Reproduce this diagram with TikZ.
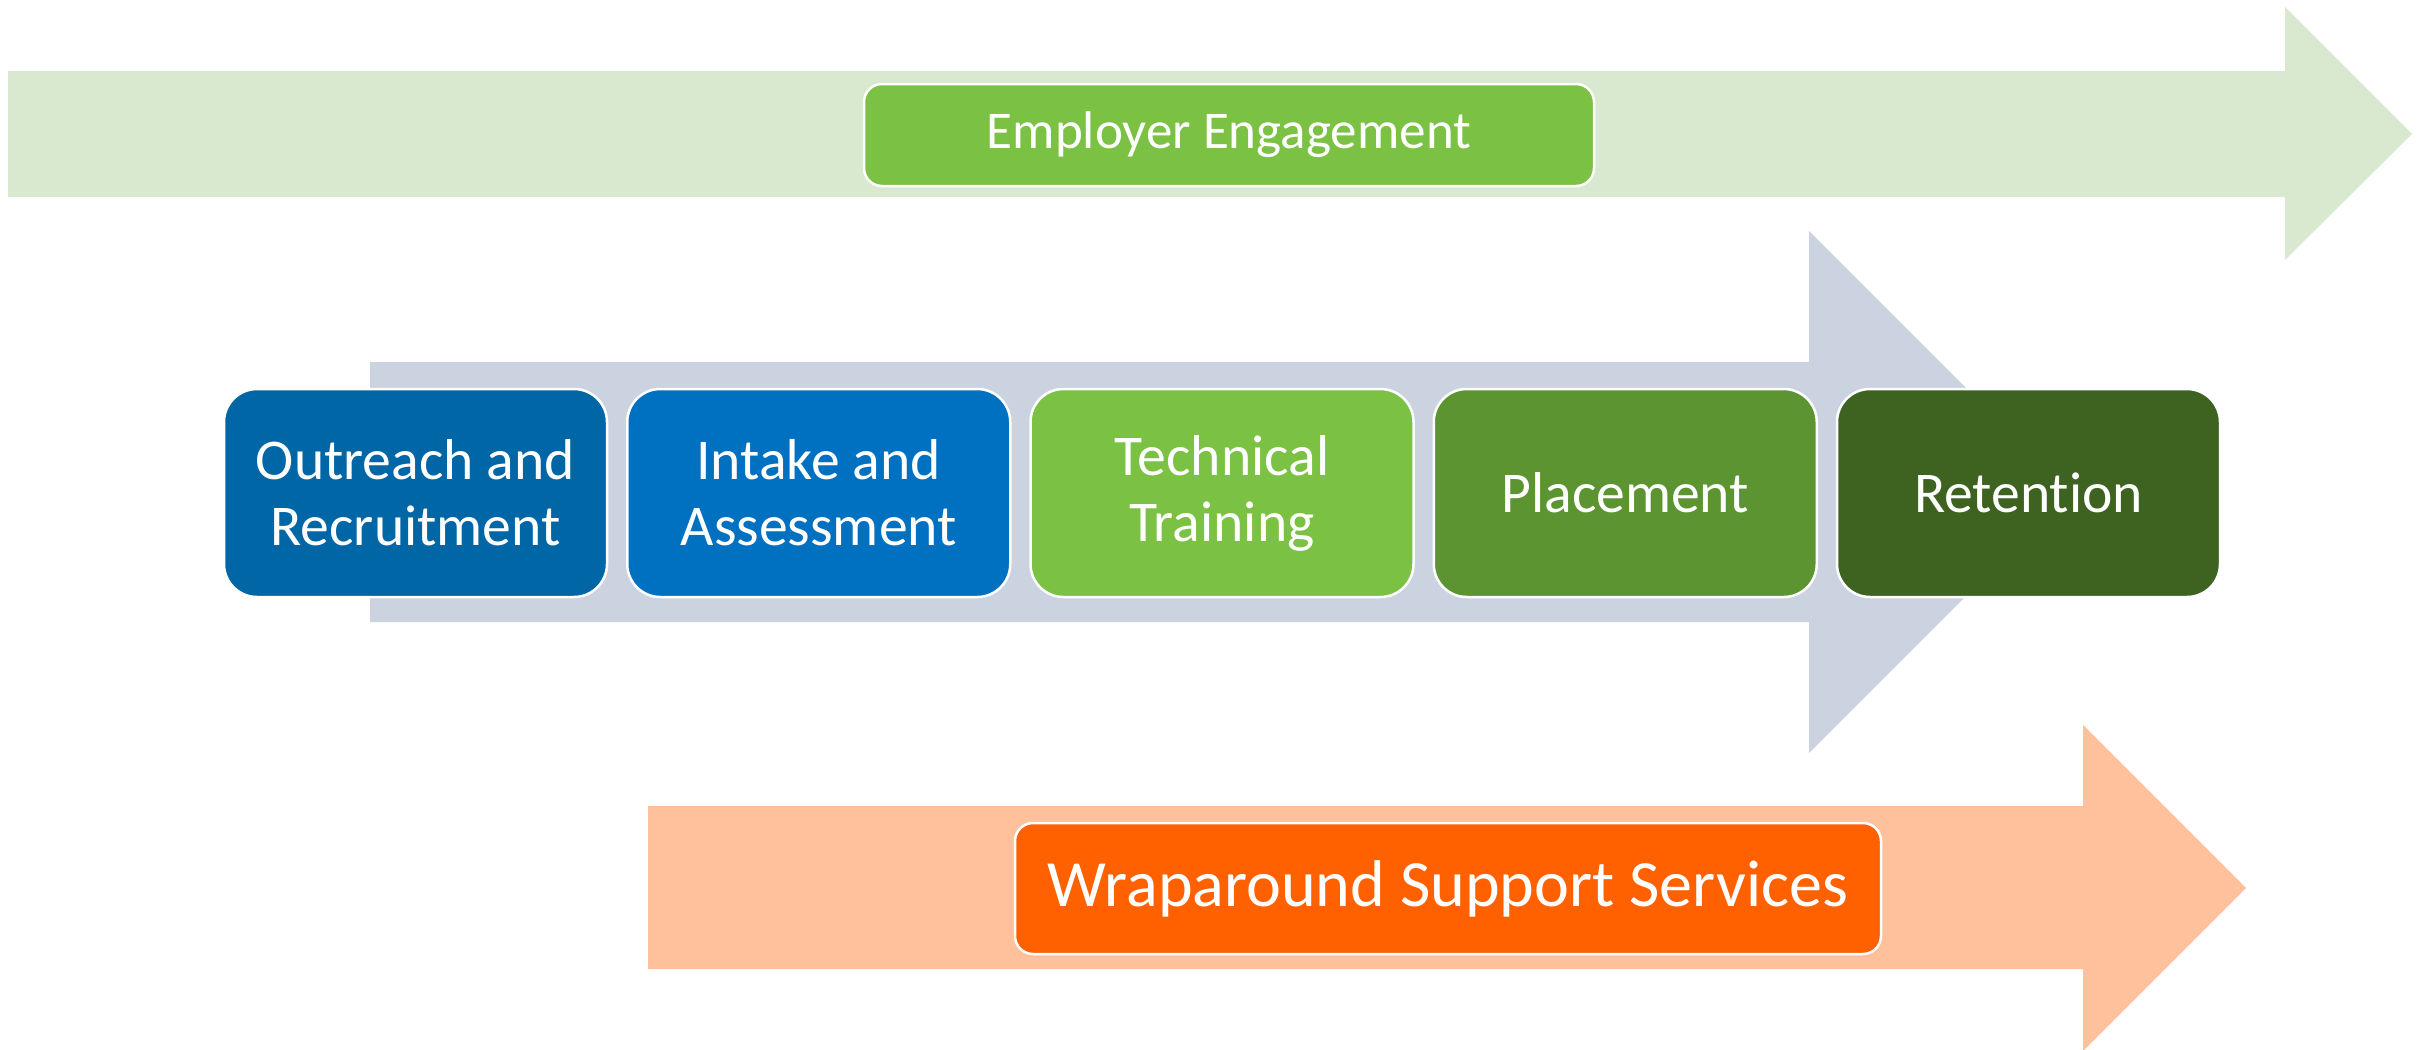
\documentclass[tikz,border=0pt]{standalone}
\usepackage{fontspec}
\setmainfont{Carlito}[Ligatures=NoCommon]

\definecolor{engagelight}{HTML}{D8E9D0}
\definecolor{engagegreen}{HTML}{7BC143}
\definecolor{flowgrey}{HTML}{CCD3E0}
\definecolor{outreachblue}{HTML}{0066A6}
\definecolor{intakeblue}{HTML}{0070C0}
\definecolor{trainingreen}{HTML}{7BC143}
\definecolor{placegreen}{HTML}{5B9431}
\definecolor{retaingreen}{HTML}{3E6321}
\definecolor{supportlight}{HTML}{FEC19B}
\definecolor{supportorange}{HTML}{FF6100}

\begin{document}
\begin{tikzpicture}[
        x=0.1mm, y=-0.1mm,
        stage/.style={draw=white, line width=0.25mm, rounded corners=3.3mm,
            minimum width=38.3mm, minimum height=20.8mm, inner sep=0pt,
            align=center, text=white,
            font=\fontsize{16.4pt}{18.8pt}\selectfont},
        banner/.style={draw=white, line width=0.25mm, rounded corners=1.8mm,
            inner sep=0pt, text=white}
    ]

        \useasboundingbox (0,0) rectangle (2422,1049);

        % Frecce di sfondo
        \fill[engagelight] (8,71) -- (2285,71) -- (2285,7) -- (2412,134)
            -- (2285,260) -- (2285,197) -- (8,197) -- cycle;

        \fill[flowgrey] (370,362) -- (1809,362) -- (1809,231) -- (2070,492)
            -- (1809,753) -- (1809,622) -- (370,622) -- cycle;

        \fill[supportlight] (648,806) -- (2083,806) -- (2083,725) -- (2246,888)
            -- (2083,1051) -- (2083,969) -- (648,969) -- cycle;

        % Datori di lavoro
        \node[banner, fill=engagegreen, minimum width=73mm, minimum height=10.2mm,
            font=\fontsize{15.1pt}{17pt}\selectfont] (employer) at (1229,135)
            {Employer Engagement};

        % Fasi del percorso
        \node[stage, fill=outreachblue] (outreach) at (415.5,493)
            {Outreach and\\Recruitment};

        \node[stage, fill=intakeblue] (intake) at (818.75,493)
            {Intake and\\Assessment};

        \node[stage, fill=trainingreen] (training) at (1222,493)
            {Technical\\Training};

        \node[stage, fill=placegreen] (placement) at (1625.25,493)
            {Placement};

        \node[stage, fill=retaingreen] (retention) at (2028.5,493)
            {Retention};

        % Servizi di supporto
        \node[banner, fill=supportorange, minimum width=86.6mm, minimum height=13.1mm,
            font=\fontsize{18.8pt}{22pt}\selectfont] (support) at (1448,888.5)
            {Wraparound Support Services};

    \end{tikzpicture}
\end{document}
